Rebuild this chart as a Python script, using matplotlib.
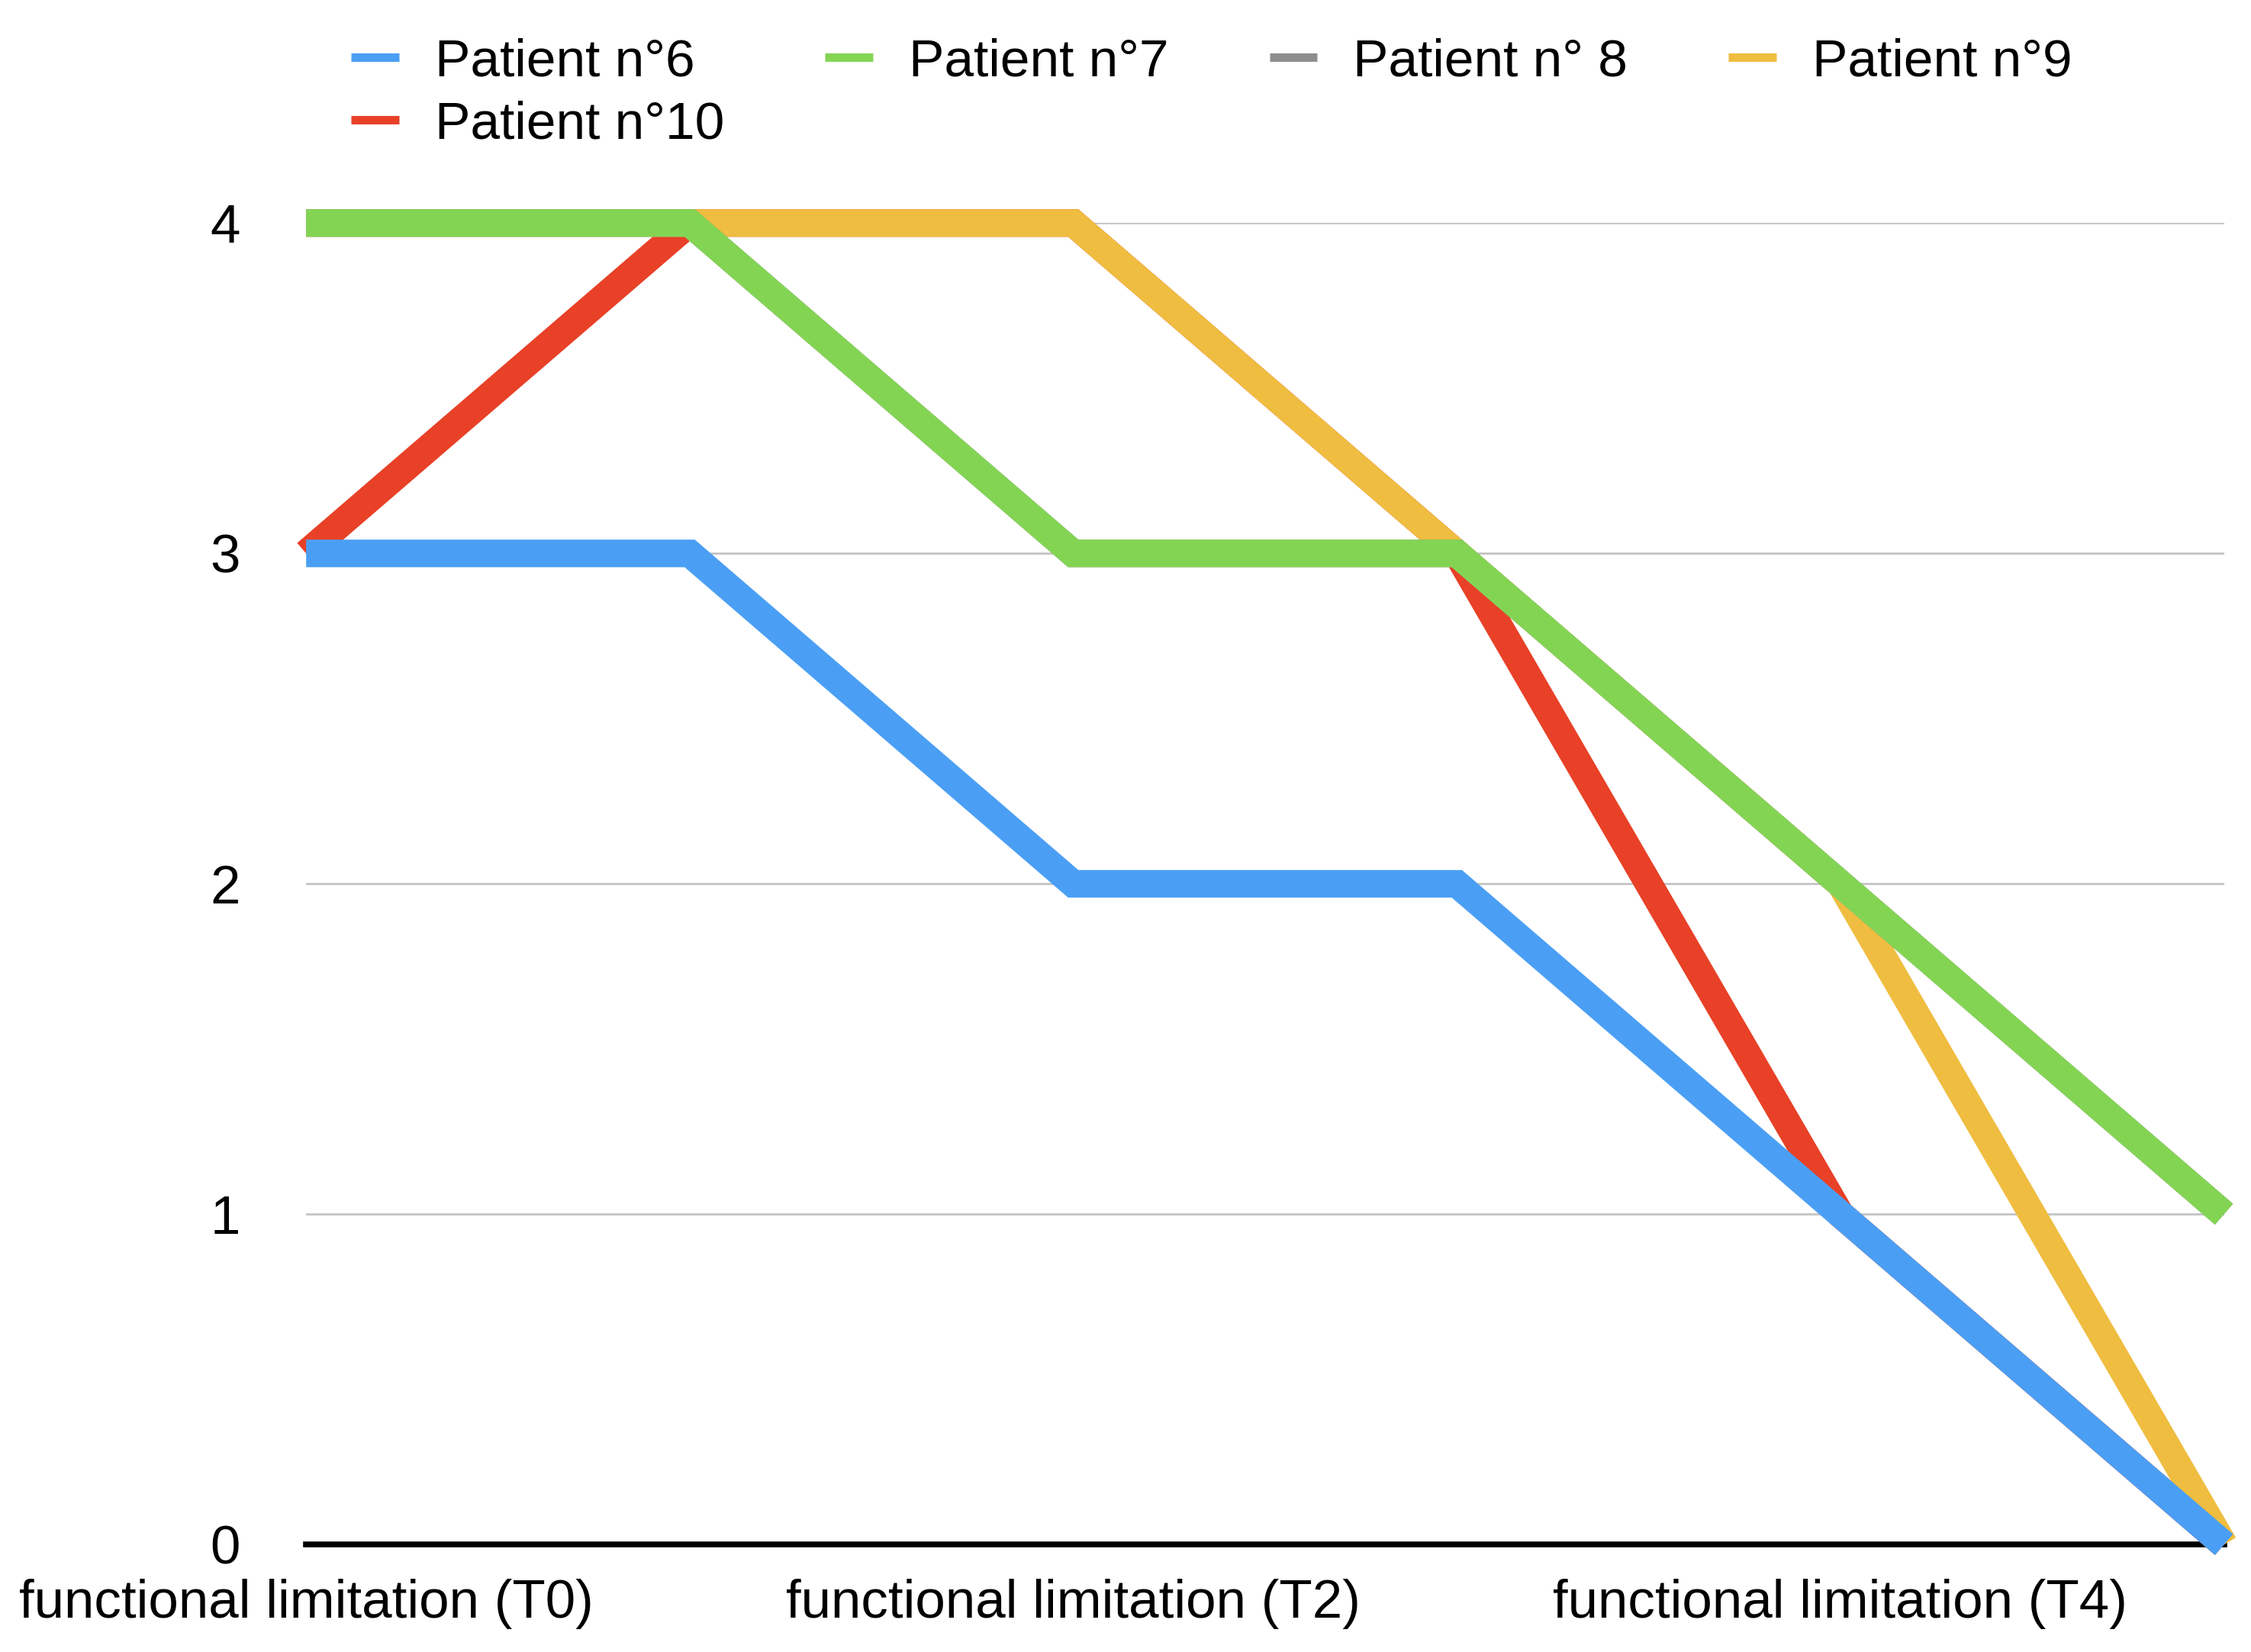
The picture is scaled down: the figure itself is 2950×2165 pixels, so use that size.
import numpy as np
import matplotlib.pyplot as plt

plt.rcParams['font.family'] = ['Liberation Sans', 'DejaVu Sans']

# six time points, only every other one is labelled
x_pos = np.arange(6)
x_labels = ['functional limitation (T0)', '', 'functional limitation (T2)', '',
            'functional limitation (T4)', '']

p6 = [3, 3, 2, 2, 1, 0]
p7 = [4, 4, 3, 3, 2, 1]
p8 = [4, 4, 3, 3, 2, 1]
p9 = [4, 4, 4, 3, 2, 0]
p10 = [3, 4, 4, 3, 1, 0]

names = ['Patient n°6', 'Patient n°7', 'Patient n° 8', 'Patient n°9', 'Patient n°10']
colrs = ['#4A9FF5', '#84D454', '#8E8E8E', '#EFBD40', '#E84127']
series = [p6, p7, p8, p9, p10]

fig = plt.figure(figsize=(29.5, 21.65), dpi=100)
ax = fig.add_axes([0.136, 0.065, 0.852, 0.8])

lines = []
for i, (y, c, n) in enumerate(zip(series, colrs, names)):
    # first series sits on top
    ln, = ax.plot(x_pos, y, color=c, lw=26, label=n, zorder=10 - i,
                  clip_on=False, solid_joinstyle='miter', solid_capstyle='butt')
    lines.append(ln)

ax.set_xlim(0, 5)
ax.set_ylim(0, 4)
ax.set_yticks([0, 1, 2, 3, 4])
ax.set_xticks(x_pos)
ax.set_xticklabels(x_labels)
ax.tick_params(axis='both', length=0, labelsize=51)
ax.tick_params(axis='y', pad=62)
ax.tick_params(axis='x', pad=32)

ax.grid(axis='y', color='#c4c4c4', lw=2)
ax.set_axisbelow(True)
for s in ['top', 'right', 'left']:
    ax.spines[s].set_visible(False)
ax.spines['bottom'].set_linewidth(5.5)
ax.spines['bottom'].set_color('black')
ax.spines['bottom'].set_zorder(2.5)

# legend fills column-wise, so reorder to get 6,7,8,9 on the first row
order = [0, 4, 1, 2, 3]
leg = fig.legend([lines[k] for k in order], [names[k] for k in order],
                 loc='upper left', bbox_to_anchor=(0.156, 0.977), ncol=4,
                 frameon=False, fontsize=50, handlelength=0.9,
                 handletextpad=0.68, columnspacing=1.9, labelspacing=0.25,
                 borderpad=0, borderaxespad=0)
for h in leg.legend_handles:
    h.set_linewidth(8)

plt.savefig('out.png', dpi=100)
